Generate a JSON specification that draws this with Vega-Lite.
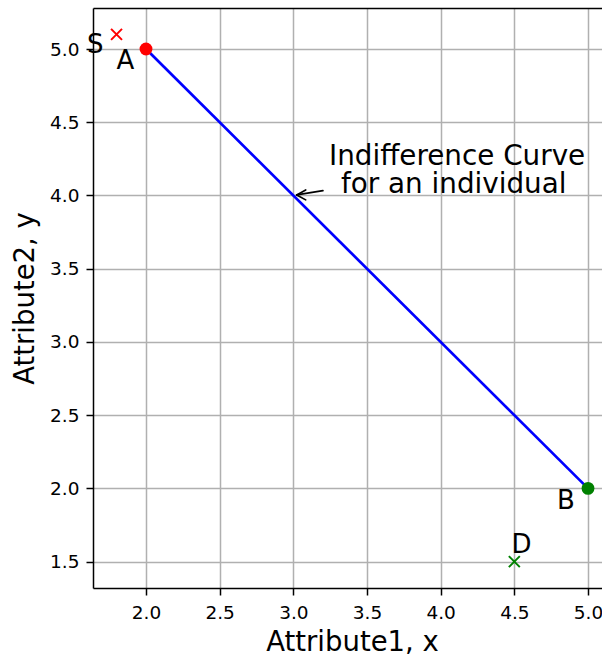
{
  "$schema": "https://vega.github.io/schema/vega-lite/v6.json",
  "width": 509,
  "height": 580,
  "autosize": {"type": "none"},
  "padding": {"left": 93, "top": 8, "right": 0, "bottom": 68},
  "background": "white",
  "config": {
    "view": {"stroke": null},
    "font": "DejaVu Sans",
    "axis": {
      "labelFont": "DejaVu Sans",
      "titleFont": "DejaVu Sans",
      "labelColor": "#000000",
      "titleColor": "#000000",
      "domainColor": "#000000",
      "domainWidth": 1.5,
      "tickColor": "#000000",
      "tickWidth": 1.5,
      "tickSize": 7,
      "gridColor": "#b0b0b0",
      "gridWidth": 1.5,
      "labelFontSize": 18.5,
      "titleFontSize": 27.5,
      "titleFontWeight": "normal",
      "labelFlush": false,
      "labelOverlap": false
    }
  },
  "datasets": {
    "curve": [{"x": 2, "y": 5}, {"x": 5, "y": 2}],
    "points": [
      {"point": "S", "x": 1.8, "y": 5.1},
      {"point": "A", "x": 2.0, "y": 5.0},
      {"point": "B", "x": 5.0, "y": 2.0},
      {"point": "D", "x": 4.5, "y": 1.5}
    ],
    "labels": [
      {"label": "S", "x": 1.6, "y": 4.97},
      {"label": "A", "x": 1.8, "y": 4.865},
      {"label": "B", "x": 4.79, "y": 1.86},
      {"label": "D", "x": 4.48, "y": 1.56}
    ],
    "note": [
      {"text": "Indifference Curve", "x": 3.242, "y": 4.209},
      {"text": "for an individual", "x": 3.3235, "y": 4.0155}
    ],
    "arrow": [
      {"x": 3.201, "y": 4.033, "x2": 3.023, "y2": 4.004},
      {"x": 3.084, "y": 4.038, "x2": 3.023, "y2": 4.004},
      {"x": 3.084, "y": 3.970, "x2": 3.023, "y2": 4.004}
    ]
  },
  "resolve": {"axis": {"x": "independent", "y": "independent"}},
  "encoding": {
    "x": {"field": "x", "type": "quantitative", "scale": {"domain": [1.6403, 5.095], "nice": false, "zero": false}, "axis": null},
    "y": {"field": "y", "type": "quantitative", "scale": {"domain": [1.32, 5.28], "nice": false, "zero": false}, "axis": null}
  },
  "layer": [
    {
      "data": {"name": "curve"},
      "mark": {"type": "line", "color": "#0000ff", "strokeWidth": 2.7},
      "encoding": {
        "x": {
          "field": "x", "type": "quantitative",
          "scale": {"domain": [1.6403, 5.095], "nice": false, "zero": false},
          "axis": {
            "orient": "bottom",
            "values": [2, 2.5, 3, 3.5, 4, 4.5, 5],
            "format": ".1f",
            "grid": true,
            "labelPadding": 8,
            "title": "Attribute1, x",
            "titleBaseline": "alphabetic",
            "titleAlign": "center",
            "titleX": 259,
            "titleY": 62
          }
        },
        "y": {
          "field": "y", "type": "quantitative",
          "scale": {"domain": [1.32, 5.28], "nice": false, "zero": false},
          "axis": {
            "orient": "left",
            "values": [1.5, 2, 2.5, 3, 3.5, 4, 4.5, 5],
            "format": ".1f",
            "grid": true,
            "labelPadding": 7,
            "title": "Attribute2, y",
            "titleAngle": -90,
            "titleBaseline": "alphabetic",
            "titleAlign": "center",
            "titleX": -60,
            "titleY": 290
          }
        }
      }
    },
    {
      "data": {"name": "points"},
      "transform": [{"filter": {"field": "point", "oneOf": ["A", "B"]}}],
      "mark": {"type": "point", "shape": "circle", "filled": true, "size": 165, "opacity": 1},
      "encoding": {
        "color": {"field": "point", "type": "nominal", "scale": {"domain": ["S", "A", "B", "D"], "range": ["#ff0000", "#ff0000", "#008000", "#008000"]}, "legend": null}
      }
    },
    {
      "data": {"name": "points"},
      "transform": [{"filter": {"field": "point", "oneOf": ["S", "D"]}}],
      "mark": {"type": "point", "shape": "M-1,-1L1,1M-1,1L1,-1", "filled": false, "size": 120, "strokeWidth": 2, "opacity": 1},
      "encoding": {
        "color": {"field": "point", "type": "nominal", "scale": {"domain": ["S", "A", "B", "D"], "range": ["#ff0000", "#ff0000", "#008000", "#008000"]}, "legend": null}
      }
    },
    {
      "data": {"name": "labels"},
      "mark": {"type": "text", "align": "left", "baseline": "alphabetic", "fontSize": 26, "font": "DejaVu Sans", "color": "#000000"},
      "encoding": {"text": {"field": "label"}}
    },
    {
      "data": {"name": "note"},
      "mark": {"type": "text", "align": "left", "baseline": "alphabetic", "fontSize": 27.8, "font": "DejaVu Sans", "color": "#000000"},
      "encoding": {"text": {"field": "text"}}
    },
    {
      "data": {"name": "arrow"},
      "mark": {"type": "rule", "color": "#000000", "strokeWidth": 1.7, "strokeCap": "round"},
      "encoding": {
        "x": {
          "field": "x", "type": "quantitative",
          "scale": {"domain": [1.6403, 5.095], "nice": false, "zero": false},
          "axis": {"orient": "top", "labels": false, "ticks": false, "grid": false, "domain": true, "title": null}
        },
        "x2": {"field": "x2"},
        "y2": {"field": "y2"}
      }
    }
  ]
}
